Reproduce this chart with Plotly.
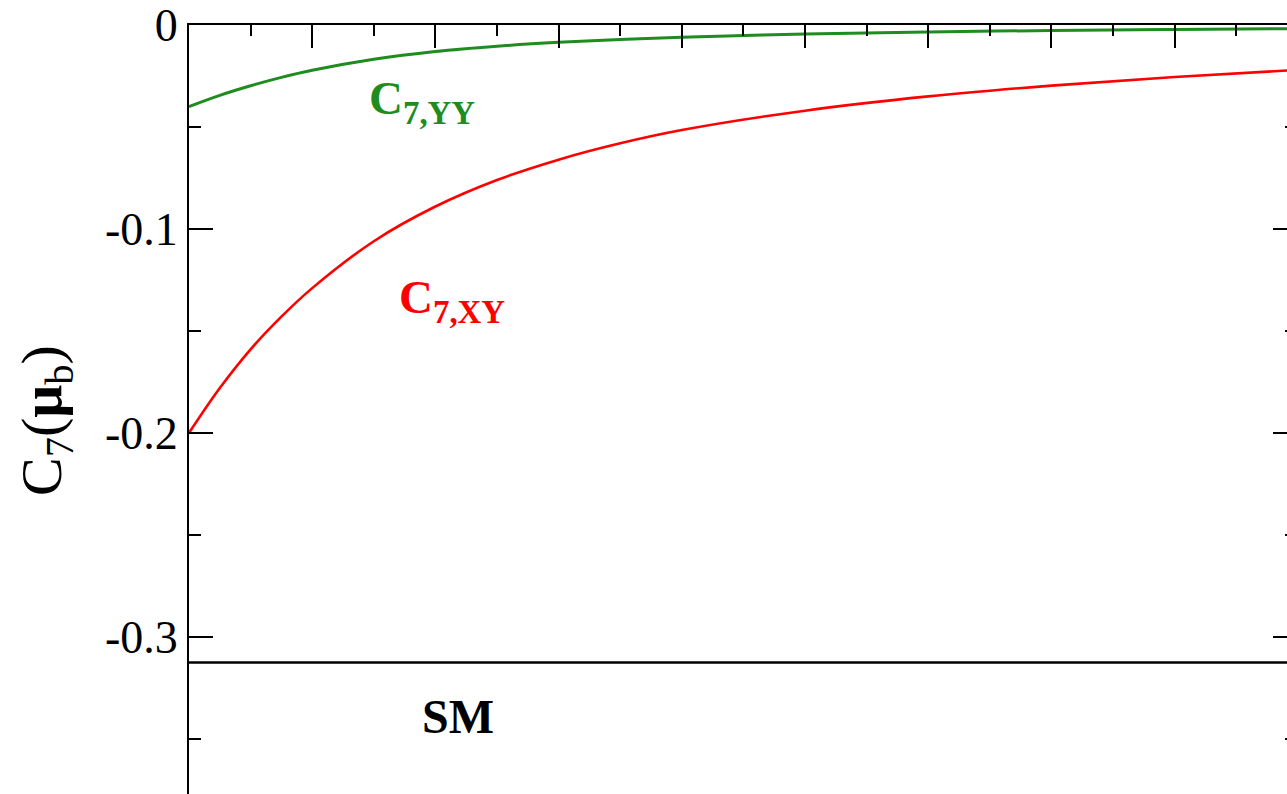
import plotly.graph_objects as go

# Mass scan points (GeV) and the two Wilson-coefficient contributions
mass = [100, 125, 150, 175, 200, 250, 300, 350, 400, 450, 500, 600, 700, 800, 900, 1000]
c7_xy = [-0.200, -0.178, -0.159, -0.143, -0.129, -0.106, -0.089, -0.076, -0.066,
         -0.058, -0.0515, -0.0420, -0.0350, -0.0297, -0.0255, -0.0220]
c7_yy = [-0.0400, -0.0345, -0.0298, -0.0257, -0.0222, -0.0168, -0.0130, -0.0104, -0.0085,
         -0.0071, -0.0060, -0.0044, -0.0034, -0.0027, -0.0022, -0.0018]
c7_sm = -0.3125

y_major = [0, -0.1, -0.2, -0.3]
y_major_text = ["0", "-0.1", "-0.2", "-0.3"]
y_minor = [-0.05, -0.15, -0.25, -0.35]
x_major = [200, 300, 400, 500, 600, 700, 800, 900]
x_minor = [150, 250, 350, 450, 550, 650, 750, 850, 950]

W, H = 1287, 794
L, T = 189, 25
X_RANGE = [100, 991.2]
Y_RANGE = [-0.377, 0]

SERIF = "Liberation Serif, Times New Roman, serif"
GREEN = "#1e8c1e"
RED = "#ff0000"

fig = go.Figure()
fig.add_trace(go.Scatter(x=mass, y=c7_yy, mode="lines",
                         line=dict(color=GREEN, width=3, shape="spline", smoothing=1.0),
                         hoverinfo="skip", showlegend=False))
fig.add_trace(go.Scatter(x=mass, y=c7_xy, mode="lines",
                         line=dict(color=RED, width=2.6, shape="spline", smoothing=1.0),
                         hoverinfo="skip", showlegend=False))
fig.add_trace(go.Scatter(x=[mass[0], mass[-1]], y=[c7_sm, c7_sm], mode="lines",
                         line=dict(color="black", width=2.5), hoverinfo="skip", showlegend=False))
# carrier trace for the right-hand tick axis
fig.add_trace(go.Scatter(x=[mass[0]], y=[c7_sm], yaxis="y2", mode="markers", opacity=0,
                         hoverinfo="skip", showlegend=False))


def px_to_paper(px, py):
    return (px - L) / (W - L), (H - py) / (H - T)


def label(text, px, py, size, color, xanchor="left", yanchor="middle", angle=0):
    xp, yp = px_to_paper(px, py)
    fig.add_annotation(x=xp, y=yp, xref="paper", yref="paper", text=text, showarrow=False,
                       xanchor=xanchor, yanchor=yanchor, textangle=angle,
                       font=dict(family=SERIF, size=size, color=color))


label("<b>C<sub>7,YY</sub></b>", 367, 102, 47, GREEN)
label("<b>C<sub>7,XY</sub></b>", 397, 300, 47, RED)
label("<b>SM</b>", 458, 716, 48, "black", xanchor="center")
label("C<sub>7</sub>(<b>μ</b><sub>b</sub>)", 45, 421, 58, "black", xanchor="center", angle=-90)

fig.update_layout(
    width=W, height=H,
    margin=dict(l=L, r=0, t=T, b=0),
    paper_bgcolor="white", plot_bgcolor="white",
    xaxis=dict(range=X_RANGE, side="top", showline=True, linecolor="black", linewidth=2,
               showgrid=False, zeroline=False, showticklabels=False,
               ticks="inside", tickvals=x_major, ticklen=23, tickwidth=2, tickcolor="black",
               minor=dict(tickvals=x_minor, ticks="inside", ticklen=11, tickwidth=2,
                          tickcolor="black", showgrid=False)),
    yaxis=dict(range=Y_RANGE, showline=True, linecolor="black", linewidth=2,
               showgrid=False, zeroline=False,
               ticks="inside", tickvals=y_major, ticktext=y_major_text,
               ticklen=24, tickwidth=2, tickcolor="black",
               tickfont=dict(family=SERIF, size=46, color="black"),
               minor=dict(tickvals=y_minor, ticks="inside", ticklen=12, tickwidth=2,
                          tickcolor="black", showgrid=False)),
    yaxis2=dict(range=Y_RANGE, overlaying="y", side="right", showline=False,
                showgrid=False, zeroline=False, showticklabels=False,
                ticks="inside", tickvals=y_major, ticklen=14, tickwidth=2, tickcolor="black",
                minor=dict(tickvals=y_minor, ticks="inside", ticklen=2, tickwidth=2,
                           tickcolor="black", showgrid=False)),
)

fig.write_html("out.html")
